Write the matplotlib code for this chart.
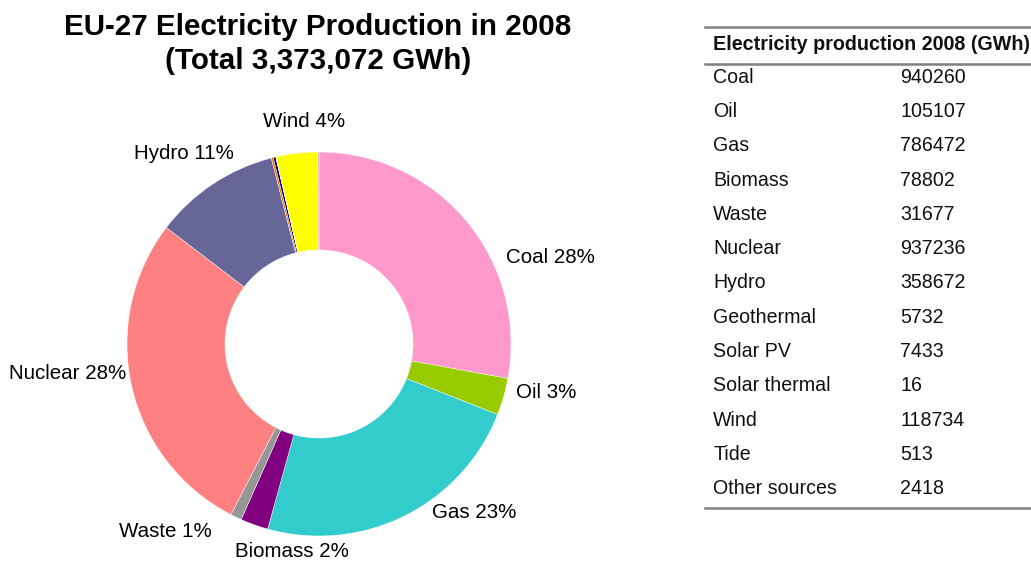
import matplotlib
matplotlib.use("Agg")
import matplotlib.pyplot as plt

plt.rcParams['font.family'] = ['Liberation Sans', 'DejaVu Sans']

# Electricity production by source, EU-27, 2008 (GWh)
sources = ["Coal", "Oil", "Gas", "Biomass", "Waste", "Nuclear", "Hydro",
           "Geothermal", "Solar PV", "Solar thermal", "Wind", "Tide",
           "Other sources"]
production_gwh = [940260, 105107, 786472, 78802, 31677, 937236, 358672,
                  5732, 7433, 16, 118734, 513, 2418]
total_gwh = 3373072

colors = ["#FF99CC", "#99CC00", "#33CCCC", "#800080", "#969696", "#FF8080",
          "#666699", "#FF6600", "#000080", "#FFCC00", "#FFFF00", "#CC99FF",
          "#993366"]

# Sources that get a label on the ring, with label centres (pie units)
labelled = ["Coal", "Oil", "Gas", "Biomass", "Waste", "Nuclear", "Hydro", "Wind"]
label_pos = {
    "Coal": (1.208, 0.453),
    "Oil": (1.182, -0.255),
    "Gas": (0.807, -0.880),
    "Biomass": (-0.141, -1.083),
    "Waste": (-0.802, -0.974),
    "Nuclear": (-1.307, -0.156),
    "Hydro": (-0.703, 0.990),
    "Wind": (-0.078, 1.161),
}

W, H = 1031, 562
fig = plt.figure(figsize=(W / 100, H / 100), dpi=100)
fig.patch.set_facecolor("white")

# Donut chart
cx, cy, r = 319, 344, 192
ax = fig.add_axes([(cx - r) / W, (H - cy - r) / H, 2 * r / W, 2 * r / H])
ax.pie(production_gwh, colors=colors, startangle=90, counterclock=False,
       radius=1.0, wedgeprops=dict(width=0.51, linewidth=0.3, edgecolor="white"))
ax.set_xlim(-1, 1)
ax.set_ylim(-1, 1)
ax.set_aspect("equal")
ax.axis("off")

for name in labelled:
    value = production_gwh[sources.index(name)]
    pct = round(100 * value / total_gwh)
    x, y = label_pos[name]
    ax.text(x, y, f"{name} {pct}%", ha="center", va="center",
            fontsize=14.8, color="black", clip_on=False)

fig.text(318 / W, 1 - 44 / H,
         "EU-27 Electricity Production in 2008\n(Total 3,373,072 GWh)",
         ha="center", va="center", fontsize=21.3, fontweight="bold",
         linespacing=1.24)

# Data table
tx0, tx1 = 705 / W, 1.0
line_kw = dict(color="#808080", linewidth=1.8, transform=fig.transFigure)
for yy in (27, 64, 508):
    fig.add_artist(plt.Line2D([tx0, tx1], [1 - yy / H, 1 - yy / H], **line_kw))

fig.text(713 / W, 1 - 44 / H, "Electricity production 2008 (GWh)",
         ha="left", va="center", fontsize=14.2, fontweight="bold",
         color="#111111")

row0, row_step = 77.5, 34.25
for i, (name, value) in enumerate(zip(sources, production_gwh)):
    yy = 1 - (row0 + i * row_step) / H
    fig.text(713 / W, yy, name, ha="left", va="center", fontsize=14.1,
             color="#111111")
    fig.text(900 / W, yy, str(value), ha="left", va="center", fontsize=14.1,
             color="#111111")

fig.savefig("out.png", dpi=100, facecolor="white")
